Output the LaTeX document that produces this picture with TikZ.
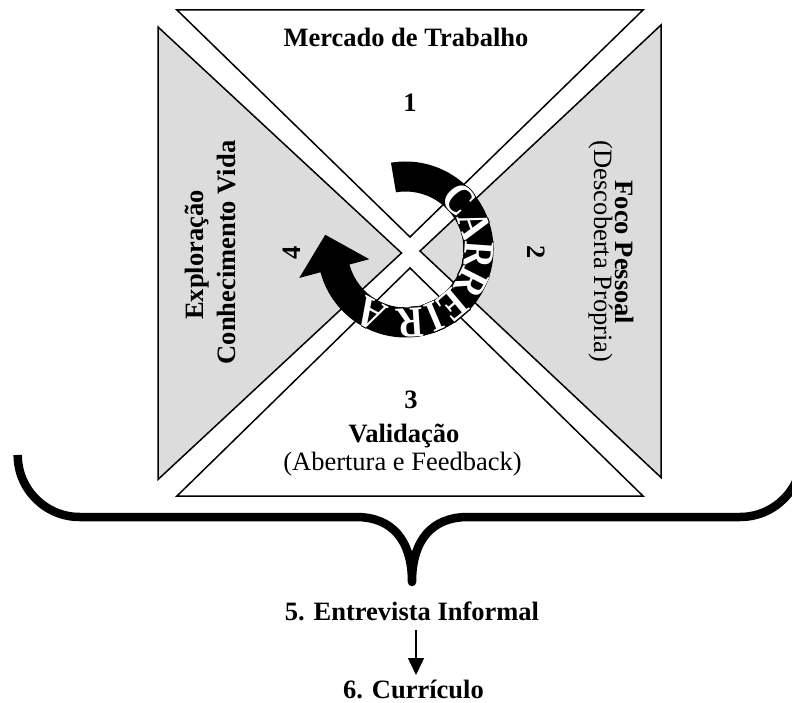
\documentclass[tikz,border=0pt]{standalone}
\usepackage{fontspec}
\setmainfont{Liberation Serif}
\usepackage{graphicx}
\usepackage{contour}
\usetikzlibrary{calc,arrows.meta}
\definecolor{panelgray}{HTML}{DCDCDC}
\contourlength{0.6pt}
\contournumber{8}
% white letter with a thin black outline
\newcommand\ringglyph[1]{\scalebox{0.84}[1]{\contour{black}{#1}}}
\begin{document}
\begin{tikzpicture}[x=1pt,y=1pt,
  tri/.style={draw=black, line width=1.5pt, line join=miter},
  shadetri/.style={tri, fill=panelgray},
  lbl/.style={font=\fontsize{26.5}{30}\selectfont\bfseries, inner sep=0pt, anchor=base},
  lblr/.style={font=\fontsize{26.5}{30}\selectfont, inner sep=0pt, anchor=base},
  ringtxt/.style={font=\fontsize{44}{44}\selectfont\bfseries, text=white, inner sep=0pt},
  bracepath/.style={line width=8.5pt, line join=round},
  flow/.style={line width=1.6pt, -{Triangle[length=17pt,width=16pt]}}
]
\useasboundingbox (0,0) rectangle (792,-703);
\clip (0,0) rectangle (792,-703);

% four quadrants separated by white diagonal strips
\draw[tri, fill=white] (177,-10) -- (643,-10) -- (410,-237) -- cycle;
\draw[shadetri] (158,-27) -- (158,-479.5) -- (401.5,-253) -- cycle;
\draw[shadetri] (661,-25) -- (661,-477.5) -- (420,-251) -- cycle;
\draw[tri, fill=white] (177,-496) -- (643,-496) -- (410,-268) -- cycle;

% quadrant labels
\node[lbl] (mercado) at (406,-46.7) {Mercado de Trabalho};
\node[lbl] (n1) at (410,-111.7) {1};
\node[lbl] (n3) at (411,-408.3) {3};
\node[lbl] (valid) at (404,-442) {Validação};
\node[lblr] (abert) at (402.5,-470) {(Abertura e Feedback)};
\node[lbl, rotate=90] (explo) at (203.3,-255) {Exploração};
\node[lbl, rotate=90] (conh) at (235,-252.5) {Conhecimento Vida};
\node[lbl, rotate=-90] (foco) at (615,-252.5) {Foco Pessoal};
\node[lblr, rotate=-90] (desc) at (594,-251.7) {(Descoberta Própria)};
\node[lbl, rotate=90, anchor=center] (n4) at (291.7,-252.5) {4};
\node[lbl, rotate=-90, anchor=center] (n2) at (536.7,-251.7) {2};

% circular arrow in the centre
\coordinate (c) at (405.5,-249.5);
\fill[black] ($(c)+(99.5:88)$) arc[start angle=99.5, end angle=-165, radius=88]
  -- ($(c)+(-165:110)$) -- ($(c)+(169.6:81.6)$) -- ($(c)+(-165:37.5)$)
  -- ($(c)+(-165:58)$) arc[start angle=-165, end angle=99.5, radius=58] -- cycle;

% lettering around the arrow
\node[ringtxt, rotate=-47]  (r1) at ($(c)+(43:73)$)   {\ringglyph{C}};
\node[ringtxt, rotate=-71]  (r2) at ($(c)+(19:73)$)   {\ringglyph{A}};
\node[ringtxt, rotate=-94]  (r3) at ($(c)+(-4:73)$)   {\ringglyph{R}};
\node[ringtxt, rotate=-117] (r4) at ($(c)+(-27:73)$)  {\ringglyph{R}};
\node[ringtxt, rotate=-140] (r5) at ($(c)+(-50:73)$)  {\ringglyph{E}};
\node[ringtxt, rotate=-157] (r6) at ($(c)+(-67:73)$)  {\ringglyph{I}};
\node[ringtxt, rotate=-176] (r7) at ($(c)+(-86:73)$)  {\ringglyph{R}};
\node[ringtxt, rotate=-208] (r8) at ($(c)+(-118:73)$) {\ringglyph{A}};

% brace gathering the quadrants
\draw[bracepath] (17.7,-455) arc[start angle=180, end angle=270, radius=62]
  -- (356,-517) .. controls (392,-517) and (412,-540) .. (412,-582)
  .. controls (412,-540) and (432,-517) .. (468,-517)
  -- (740,-517) arc[start angle=270, end angle=360, radius=62];

% following steps
\node[lbl] (n5) at (412,-620) {5. Entrevista Informal};
\node[lbl] (n6) at (413.5,-698) {6. Currículo};
\draw[flow] ([shift={(4,-10)}]n5.base) -- ([shift={(2.5,23)}]n6.base);
\end{tikzpicture}
\end{document}
